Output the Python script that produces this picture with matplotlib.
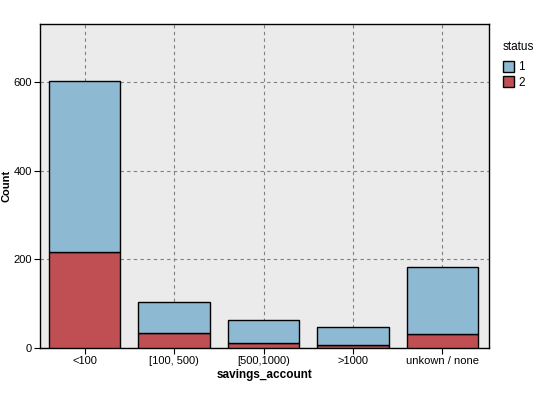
import matplotlib
matplotlib.use("Agg")
import matplotlib.pyplot as plt
import numpy as np

plt.rcParams['font.family'] = ['Liberation Sans', 'DejaVu Sans']

categories = ["<100", "[100, 500)", "[500,1000)", ">1000", "unkown / none"]
status2 = [217, 34, 11, 6, 32]
status1 = [386, 69, 52, 42, 151]

col1 = "#8DB9D2"
col2 = "#C04F53"

fig = plt.figure(figsize=(5.37, 3.93), dpi=100)
W, H = 537, 393
ax = fig.add_axes([40 / W, (H - 348) / H, 449 / W, 324 / H])
ax.set_facecolor("#EBEBEB")

x = np.arange(len(categories))
ax.set_axisbelow(True)
ax.grid(True, color="#808080", linestyle=(0, (3, 3)), linewidth=0.8)
ax.bar(x, status2, width=0.8, color=col2, edgecolor="black", linewidth=1, label="2", zorder=3)
ax.bar(x, status1, width=0.8, bottom=status2, color=col1, edgecolor="black", linewidth=1, label="1", zorder=3)

ax.set_xlim(-0.5, 4.52)
ax.set_ylim(0, 731)
ax.set_yticks([0, 200, 400, 600])
ax.set_xticks(x)
ax.set_xticklabels(categories)
ax.tick_params(axis='both', labelsize=8, length=4, color="black", pad=2)
for s in ax.spines.values():
    s.set_color("black")
    s.set_linewidth(1)

ax.set_xlabel("savings_account", fontsize=8.5, fontweight="bold", labelpad=2)
ax.set_ylabel("Count", fontsize=8, fontweight="bold")
ax.yaxis.set_label_coords(-28 / 449, 0.5)

handles, labels = ax.get_legend_handles_labels()
leg = fig.legend(handles[::-1], labels[::-1], title="status", loc="upper left",
                 bbox_to_anchor=(492 / W, 1 - 30 / H), frameon=False, fontsize=8.5,
                 title_fontsize=8.5, handlelength=1.0, handleheight=1.0,
                 handletextpad=0.3, labelspacing=0.25, alignment="left")
leg._legend_box.sep = 6

fig.savefig("out.png", dpi=100)
